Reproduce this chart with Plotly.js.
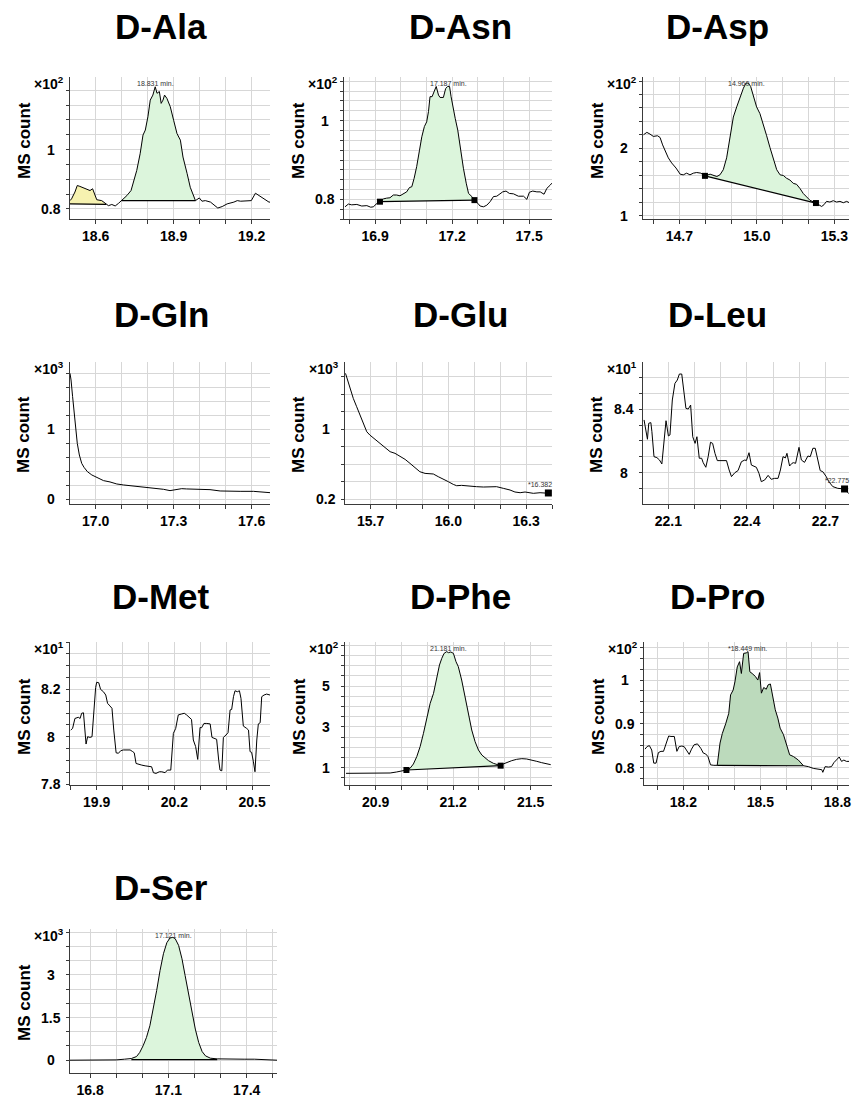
<!DOCTYPE html>
<html><head><meta charset="utf-8">
<script src="https://cdn.plot.ly/plotly-3.0.1.min.js"></script>
<style>html,body{margin:0;padding:0;background:#fff}#chart{width:853px;height:1101px}</style>
</head><body><div id="chart"></div>
<script>
// ================= DATA =================
const compounds = ['D-Ala','D-Asn','D-Asp','D-Gln','D-Glu','D-Leu','D-Met','D-Phe','D-Pro','D-Ser'];
const scaleExp  = [2,2,2,3,3,1,1,2,2,3];

const ala_t = [18.501,18.507,18.520,18.529,18.539,18.559,18.578,18.588,18.597,18.604,18.623,18.640,18.649,18.662,18.675,18.688,18.700,18.720,18.736,18.746,18.758,18.771,18.782,18.791,18.801,18.810,18.820,18.829,18.836,18.845,18.852,18.859,18.865,18.874,18.887,18.900,18.913,18.926,18.936,18.952,18.964,18.984,18.999,19.009,19.022,19.042,19.055,19.070,19.087,19.106,19.132,19.145,19.158,19.183,19.199,19.215,19.228,19.248,19.267,19.273];
const ala_y = [0.828,0.834,0.857,0.879,0.876,0.868,0.862,0.868,0.845,0.831,0.828,0.815,0.811,0.815,0.810,0.819,0.828,0.845,0.862,0.890,0.930,0.986,1.049,1.066,1.111,1.167,1.184,1.212,1.190,1.196,1.156,1.167,1.184,1.173,1.145,1.099,1.054,1.032,0.975,0.919,0.873,0.828,0.837,0.826,0.828,0.823,0.815,0.803,0.808,0.817,0.823,0.828,0.826,0.828,0.828,0.853,0.845,0.834,0.823,0.823];

const asn_t = [16.783,16.796,16.809,16.829,16.848,16.868,16.883,16.894,16.904,16.919,16.932,16.945,16.958,16.971,16.984,16.997,17.010,17.023,17.034,17.043,17.052,17.062,17.073,17.082,17.092,17.101,17.108,17.114,17.122,17.131,17.138,17.147,17.153,17.166,17.175,17.183,17.190,17.196,17.203,17.212,17.222,17.231,17.244,17.255,17.264,17.277,17.287,17.300,17.309,17.322,17.335,17.348,17.361,17.374,17.387,17.397,17.410,17.423,17.439,17.458,17.478,17.491,17.501,17.514,17.530,17.543,17.558,17.569,17.582,17.588];
const asn_y = [0.781,0.788,0.786,0.787,0.783,0.784,0.780,0.781,0.788,0.794,0.801,0.803,0.804,0.811,0.811,0.809,0.815,0.819,0.830,0.832,0.853,0.883,0.925,0.959,0.985,0.997,1.023,1.061,1.061,1.074,1.087,1.065,1.059,1.059,1.082,1.087,1.087,1.061,1.035,1.006,0.976,0.934,0.879,0.841,0.815,0.807,0.798,0.790,0.783,0.781,0.785,0.794,0.807,0.808,0.813,0.819,0.821,0.815,0.814,0.808,0.808,0.800,0.818,0.821,0.819,0.819,0.813,0.828,0.836,0.841];

const asp_t = [14.561,14.574,14.586,14.599,14.615,14.625,14.635,14.648,14.657,14.670,14.687,14.703,14.715,14.728,14.741,14.754,14.767,14.783,14.799,14.819,14.832,14.845,14.857,14.870,14.883,14.896,14.909,14.922,14.935,14.948,14.958,14.967,14.976,14.986,14.999,15.012,15.025,15.038,15.051,15.064,15.077,15.090,15.103,15.115,15.128,15.141,15.154,15.167,15.180,15.193,15.206,15.229,15.242,15.251,15.260,15.270,15.283,15.296,15.309,15.322,15.335,15.348,15.358];
const asp_y = [2.202,2.237,2.212,2.177,2.187,2.162,2.051,1.934,1.859,1.783,1.707,1.616,1.606,1.631,1.606,1.631,1.641,1.631,1.591,1.616,1.596,1.581,1.606,1.682,1.859,2.162,2.465,2.616,2.768,2.894,2.970,2.970,2.919,2.768,2.616,2.515,2.364,2.187,2.010,1.833,1.682,1.606,1.596,1.556,1.530,1.480,1.465,1.404,1.328,1.278,1.227,1.187,1.152,1.136,1.162,1.212,1.202,1.222,1.202,1.212,1.192,1.212,1.192];

const gln_t = [16.901,16.905,16.911,16.917,16.923,16.929,16.937,16.946,16.955,16.968,16.985,17.004,17.030,17.055,17.081,17.107,17.145,17.184,17.222,17.261,17.286,17.299,17.312,17.331,17.350,17.376,17.402,17.440,17.479,17.504,17.556,17.607,17.646,17.671];
const gln_y = [1.800,1.705,1.467,1.229,0.990,0.800,0.633,0.514,0.457,0.395,0.348,0.310,0.267,0.248,0.219,0.205,0.190,0.176,0.162,0.143,0.124,0.129,0.143,0.152,0.148,0.143,0.143,0.138,0.119,0.114,0.114,0.114,0.100,0.095];

const glu_t = [15.603,15.611,15.620,15.633,15.646,15.659,15.672,15.685,15.697,15.717,15.736,15.755,15.775,15.794,15.813,15.833,15.852,15.871,15.890,15.910,15.942,15.961,15.981,16.000,16.019,16.032,16.051,16.071,16.090,16.109,16.135,16.161,16.186,16.212,16.238,16.257,16.277,16.296,16.309,16.328,16.354,16.380,16.390];
const glu_y = [1.640,1.564,1.469,1.354,1.259,1.164,1.069,0.973,0.935,0.886,0.840,0.794,0.745,0.726,0.695,0.657,0.611,0.566,0.516,0.497,0.490,0.459,0.432,0.402,0.371,0.356,0.360,0.352,0.352,0.345,0.341,0.345,0.345,0.326,0.307,0.284,0.276,0.284,0.276,0.269,0.276,0.269,0.269];

const leu_t = [22.007,22.015,22.020,22.025,22.033,22.037,22.045,22.056,22.066,22.075,22.084,22.091,22.100,22.106,22.115,22.125,22.134,22.142,22.151,22.157,22.167,22.176,22.185,22.193,22.202,22.209,22.218,22.227,22.233,22.243,22.252,22.261,22.269,22.278,22.287,22.297,22.309,22.322,22.332,22.341,22.354,22.366,22.379,22.392,22.398,22.408,22.417,22.426,22.436,22.446,22.455,22.468,22.481,22.493,22.506,22.519,22.528,22.538,22.547,22.553,22.563,22.572,22.578,22.586,22.599,22.608,22.620,22.633,22.642,22.652,22.661,22.671,22.680,22.690,22.703,22.713,22.728,22.747,22.766,22.773,22.785,22.789];
const leu_y = [8.333,8.269,8.211,8.312,8.316,8.259,8.101,8.095,8.080,8.055,8.227,8.328,8.232,8.238,8.459,8.564,8.585,8.623,8.623,8.543,8.406,8.402,8.427,8.227,8.185,8.227,8.091,8.091,8.063,8.034,8.101,8.192,8.185,8.122,8.076,8.076,8.076,8.076,8.017,7.975,8.000,8.013,8.069,8.080,8.076,8.126,8.048,8.042,8.034,7.996,7.943,7.954,7.983,7.958,7.964,7.964,8.017,8.101,8.093,8.122,8.042,8.059,8.063,8.059,8.160,8.080,8.065,8.105,8.101,8.154,8.154,8.080,8.013,8.006,7.975,7.943,7.912,7.901,7.899,7.897,7.874,7.869];

const met_t = [19.800,19.807,19.816,19.829,19.836,19.842,19.849,19.855,19.859,19.865,19.874,19.882,19.888,19.896,19.900,19.908,19.915,19.926,19.935,19.942,19.951,19.959,19.966,19.975,19.984,19.993,20.003,20.016,20.029,20.039,20.045,20.052,20.061,20.074,20.087,20.099,20.112,20.119,20.129,20.142,20.151,20.164,20.173,20.186,20.196,20.205,20.215,20.228,20.238,20.247,20.258,20.266,20.273,20.282,20.290,20.299,20.305,20.314,20.325,20.338,20.345,20.354,20.363,20.371,20.376,20.383,20.389,20.399,20.407,20.415,20.421,20.428,20.434,20.443,20.451,20.457,20.466,20.479,20.486,20.492,20.498,20.505,20.511,20.518,20.524,20.531,20.537,20.546,20.556,20.569,20.573];
const met_y = [8.028,8.035,8.077,8.082,8.077,8.099,8.101,8.014,7.969,8.000,7.997,8.000,8.099,8.208,8.230,8.228,8.200,8.190,8.176,8.141,8.130,8.120,8.028,7.932,7.930,7.941,7.944,7.944,7.944,7.937,7.932,7.887,7.883,7.880,7.877,7.876,7.873,7.848,7.845,7.852,7.852,7.848,7.859,7.859,8.014,8.035,8.092,8.096,8.099,8.092,8.082,8.073,7.986,7.958,7.904,8.039,8.038,8.056,8.056,8.054,7.997,7.993,7.989,7.901,7.859,7.856,7.997,8.007,8.017,8.113,8.115,8.169,8.194,8.190,8.194,8.162,8.045,8.035,8.028,7.937,7.934,7.894,7.852,7.986,8.054,8.059,8.169,8.176,8.180,8.176,8.179];

const phe_t = [20.785,20.813,20.852,20.904,20.956,20.981,21.001,21.019,21.033,21.046,21.059,21.072,21.085,21.098,21.111,21.124,21.136,21.147,21.156,21.165,21.175,21.182,21.191,21.201,21.211,21.220,21.233,21.246,21.259,21.272,21.285,21.298,21.311,21.324,21.337,21.356,21.369,21.384,21.394,21.408,21.427,21.446,21.466,21.485,21.505,21.524,21.543,21.563,21.578];
const phe_y = [0.722,0.722,0.722,0.722,0.739,0.788,0.837,0.886,0.967,1.180,1.539,2.029,2.682,3.498,4.151,4.641,5.457,6.029,6.355,6.600,6.682,6.633,6.665,6.600,6.192,5.947,5.294,4.478,3.580,2.845,2.273,1.865,1.620,1.457,1.343,1.212,1.147,1.098,1.180,1.261,1.343,1.408,1.441,1.424,1.376,1.310,1.245,1.180,1.147];

const pro_t = [18.051,18.059,18.068,18.077,18.085,18.094,18.103,18.113,18.123,18.132,18.143,18.152,18.165,18.175,18.184,18.194,18.203,18.212,18.223,18.232,18.242,18.255,18.268,18.278,18.287,18.296,18.306,18.319,18.332,18.343,18.352,18.365,18.377,18.384,18.394,18.401,18.410,18.419,18.426,18.435,18.445,18.452,18.459,18.468,18.481,18.490,18.497,18.504,18.513,18.523,18.530,18.539,18.549,18.558,18.568,18.577,18.590,18.603,18.614,18.629,18.648,18.668,18.687,18.706,18.726,18.739,18.743,18.752,18.765,18.777,18.786,18.797,18.807,18.816,18.825,18.835,18.846];
const pro_y = [0.842,0.848,0.850,0.840,0.810,0.810,0.834,0.837,0.837,0.854,0.872,0.871,0.871,0.837,0.848,0.849,0.848,0.840,0.830,0.842,0.852,0.854,0.844,0.833,0.831,0.825,0.806,0.805,0.805,0.856,0.878,0.900,0.924,0.966,0.977,0.996,1.030,1.042,1.015,1.061,1.062,1.065,1.019,1.015,1.008,1.000,1.017,0.970,0.983,0.979,0.989,0.991,0.962,0.932,0.913,0.890,0.875,0.848,0.829,0.825,0.817,0.804,0.802,0.798,0.796,0.795,0.789,0.802,0.801,0.802,0.811,0.817,0.824,0.814,0.817,0.814,0.814];

const ser_t = [16.723,16.771,16.836,16.900,16.932,16.958,16.978,16.990,17.003,17.016,17.029,17.042,17.055,17.068,17.081,17.094,17.106,17.117,17.126,17.139,17.152,17.164,17.177,17.190,17.203,17.216,17.229,17.242,17.261,17.287,17.326,17.351,17.390,17.429,17.467,17.499,17.516];
const ser_y = [0.000,0.000,0.000,0.011,0.035,0.058,0.129,0.270,0.505,0.800,1.211,1.800,2.447,3.152,3.741,4.129,4.294,4.317,4.270,4.035,3.564,2.976,2.329,1.682,1.094,0.623,0.305,0.152,0.070,0.047,0.035,0.023,0.035,0.035,0.011,0.000,0.000];

// integration windows: [start time, baseline at start, end time, baseline at end]
const ala_int = [[18.501,0.817,18.640,0.815],[18.700,0.828,18.984,0.828]];
const asn_int = [[16.919,0.794,17.287,0.798]];
const asp_int = [[14.799,1.591,15.229,1.187]];
const phe_int = [[21.019,0.886,21.384,1.098]];
const pro_int = [[18.332,0.805,18.668,0.804]];
const ser_int = [[16.958,0.020,17.287,0.020]];
const glu_mark = [16.386, 0.273];
const leu_mark = [22.773, 7.897];

const peakLabel = ['18.831 min.','17.187 min.','14.960 min.','','','','','21.181 min.','*18.449 min.','17.121 min.'];
const peakRT    = [18.831, 17.187, 14.960, null, null, null, null, 21.181, 18.449, 17.121];
const markLabel = ['*16.382', '*22.775'];

const xTickVals = [[18.6,18.9,19.2],[16.9,17.2,17.5],[14.7,15.0,15.3],[17.0,17.3,17.6],[15.7,16.0,16.3],[22.1,22.4,22.7],[19.9,20.2,20.5],[20.9,21.2,21.5],[18.2,18.5,18.8],[16.8,17.1,17.4]];
const yTickVals = [[0.8,1],[0.8,1],[1,2],[0,1],[0.2,1],[8,8.4],[7.8,8,8.2],[1,3,5],[0.8,0.9,1],[0,1.5,3]];
const yTickText = [['0.8','1'],['0.8','1'],['1','2'],['0','1'],['0.2','1'],['8','8.4'],['7.8','8','8.2'],['1','3','5'],['0.8','0.9','1'],['0','1.5','3']];

// ================= STYLE / LAYOUT =================
const W = 853, H = 1101;
const BOX = [[70,270,77,219],[344,552,77,219],[643,849,77,219],
             [70,270,362,504],[345,552,362,504],[643,849,362,504],
             [70,270,642,785],[345,552,642,785],[644,849,642,785],
             [70,277,929,1073]];
const XR = [[18.501,19.271],[16.779,17.589],[14.559,15.357],[16.901,17.671],[15.601,16.400],[22.003,22.790],[19.797,20.569],[20.781,21.583],[18.047,18.845],[16.723,17.516]];
const YR = [[0.766,1.245],[0.750,1.111],[0.95,3.06],[-0.067,1.962],[0.147,1.770],[7.802,8.699],[7.796,8.40],[0.151,7.155],[0.760,1.087],[-0.45,4.61]];
const YGRID = [0.05,0.025,0.2,0.2,0.2,0.1,0.05,0.5,0.025,0.5];
const TITLE_X = [161, 460, 717];
const TITLE_Y = [26, 314, 596, 887];
const YTITLE_Y = [141, 435, 717, 1003];
const FONT = 'Arial, "Liberation Sans", Helvetica, sans-serif';
const GRID = '#d7d7d7', AX = '#3a3a3a';
const GREEN = '#dcf5dc', YELLOW = '#f6f2b0', DKGREEN = '#bcdabc';

const series = [
  {t:ala_t, y:ala_y, ints:ala_int, fills:[YELLOW, GREEN], marks:false},
  {t:asn_t, y:asn_y, ints:asn_int, fills:[GREEN], marks:true},
  {t:asp_t, y:asp_y, ints:asp_int, fills:[GREEN], marks:true},
  {t:gln_t, y:gln_y, ints:[], fills:[], marks:false},
  {t:glu_t, y:glu_y, ints:[], fills:[], marks:false, end:glu_mark, endLabel:markLabel[0]},
  {t:leu_t, y:leu_y, ints:[], fills:[], marks:false, end:leu_mark, endLabel:markLabel[1]},
  {t:met_t, y:met_y, ints:[], fills:[], marks:false},
  {t:phe_t, y:phe_y, ints:phe_int, fills:[GREEN], marks:true},
  {t:pro_t, y:pro_y, ints:pro_int, fills:[DKGREEN], marks:false},
  {t:ser_t, y:ser_y, ints:ser_int, fills:[GREEN], marks:false}
];

const traces = [];
const layout = {
  width: W, height: H, margin:{l:0,r:0,t:0,b:0},
  paper_bgcolor:'#fff', plot_bgcolor:'#fff', showlegend:false, hovermode:false,
  font:{family:FONT, color:'#000'}, annotations:[]
};

series.forEach((s, i) => {
  const n = i === 0 ? '' : String(i+1);
  const xa = 'x'+n, ya = 'y'+n;
  const b = BOX[i];
  // fills + baselines
  s.ints.forEach((w, k) => {
    const [t0,b0,t1,b1] = w;
    const px = [], py = [];
    s.t.forEach((t, j) => { if (t >= t0 - 1e-6 && t <= t1 + 1e-6) { px.push(t); py.push(s.y[j]); } });
    traces.push({x: px.concat([t1, t0]), y: py.concat([b1, b0]), xaxis:xa, yaxis:ya, type:'scatter', mode:'lines',
      fill:'toself', fillcolor:s.fills[k], line:{width:0}, hoverinfo:'skip'});
    traces.push({x:[t0,t1], y:[b0,b1], xaxis:xa, yaxis:ya, type:'scatter', mode:'lines', line:{color:'#000', width:1.2}});
  });
  traces.push({x:s.t, y:s.y, xaxis:xa, yaxis:ya, type:'scatter', mode:'lines', line:{color:'#000', width:1}});
  if (s.marks) {
    s.ints.forEach(w => traces.push({x:[w[0],w[2]], y:[w[1],w[3]], xaxis:xa, yaxis:ya, type:'scatter', mode:'markers',
      marker:{symbol:'square', size:6, color:'#000'}}));
  }
  if (s.end) {
    traces.push({x:[s.end[0]], y:[s.end[1]], xaxis:xa, yaxis:ya, type:'scatter', mode:'markers', marker:{symbol:'square', size:7, color:'#000'}});
    layout.annotations.push({xref:xa, yref:ya, x:s.end[0], y:s.end[1], text:s.endLabel, showarrow:false,
      xshift:-8, yshift:8, font:{size:7, color:'#333', family:FONT}});
  }
  const xkey = 'xaxis'+n, ykey = 'yaxis'+n;
  layout[xkey] = {
    domain:[b[0]/W, b[1]/W], anchor:ya, range:XR[i], fixedrange:true,
    tickvals:xTickVals[i], ticktext:xTickVals[i].map(v => '<b>'+v.toFixed(1)+'</b>'),
    tickfont:{size:14, family:FONT, color:'#000'},
    showgrid:true, gridcolor:GRID, gridwidth:1, zeroline:false,
    showline:true, linecolor:AX, linewidth:1, ticks:'outside', ticklen:4, tickcolor:AX, tickwidth:1,
    minor:{tick0:xTickVals[i][0], dtick:0.1, showgrid:true, gridcolor:GRID, gridwidth:1, ticks:'outside', ticklen:4, tickcolor:AX}
  };
  layout[ykey] = {
    domain:[1-b[3]/H, 1-b[2]/H], anchor:xa, range:YR[i], fixedrange:true,
    tickvals:yTickVals[i], showticklabels:false,
    showgrid:true, gridcolor:GRID, gridwidth:1, zeroline:false,
    showline:true, linecolor:AX, linewidth:1, ticks:'outside', ticklen:3, tickcolor:AX,
    minor:{tick0:yTickVals[i][0], dtick:YGRID[i], showgrid:true, gridcolor:GRID, gridwidth:1, ticks:'outside', ticklen:3, tickcolor:AX}
  };
  // y tick labels (centred, as in the reference)
  yTickVals[i].forEach((v, k) => layout.annotations.push({xref:'paper', x:(b[0]-19)/W, yref:ya, y:v,
    text:'<b>'+yTickText[i][k]+'</b>', showarrow:false, xanchor:'center', yanchor:'middle', font:{size:14, family:FONT}}));
  // exponent
  layout.annotations.push({xref:'paper', yref:'paper', x:(b[0]-4)/W, y:1-(b[2]+6)/H, xanchor:'right', yanchor:'middle',
    text:'<b>×10<sup>'+scaleExp[i]+'</sup></b>', showarrow:false, font:{size:14, family:FONT}});
  // y title
  const col = i % 3, row = Math.floor(i/3);
  layout.annotations.push({xref:'paper', yref:'paper', x:(b[0]-46)/W, y:1-YTITLE_Y[row]/H, textangle:-90,
    text:'<b>MS count</b>', showarrow:false, xanchor:'center', yanchor:'middle', font:{size:17, family:FONT}});
  // panel title
  layout.annotations.push({xref:'paper', yref:'paper', x:TITLE_X[col]/W, y:1-TITLE_Y[row]/H,
    text:'<b>'+compounds[i]+'</b>', showarrow:false, xanchor:'center', yanchor:'middle', font:{size:35, family:FONT}});
  // peak RT label
  if (peakRT[i] !== null) {
    layout.annotations.push({xref:xa, yref:ya+' domain', x:peakRT[i], y:1, yanchor:'top', yshift:-1,
      text:peakLabel[i], showarrow:false, font:{size:7, color:'#333', family:FONT}});
  }
});

Plotly.newPlot('chart', traces, layout, {staticPlot:true, displayModeBar:false});
</script></body></html>
